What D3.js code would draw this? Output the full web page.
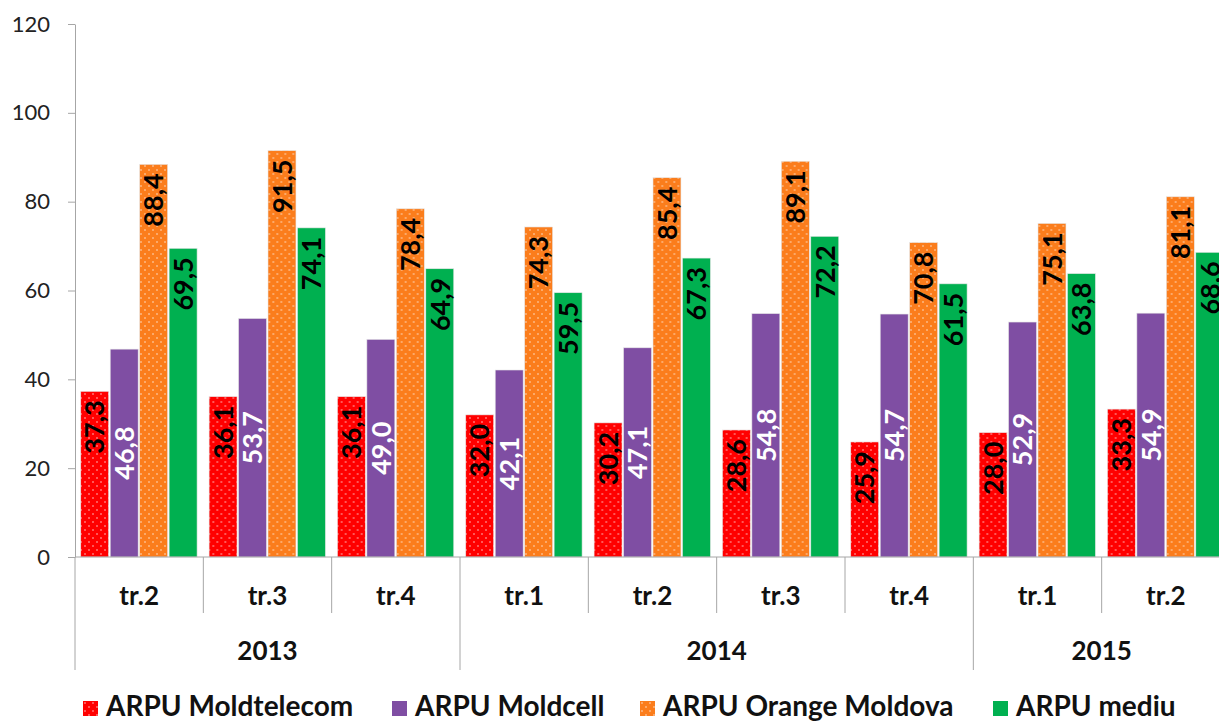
<!DOCTYPE html>
<html>
<head>
<meta charset="utf-8">
<script src="https://cdn.jsdelivr.net/npm/d3@7"></script>
<style>
  html, body { margin: 0; padding: 0; background: #fff; overflow: hidden; }
  svg { display: block; font-family: Lato, "Open Sans", sans-serif; }
</style>
</head>
<body>
<div id="chart"></div>
<script>
// ARPU chart

// data
var quarters = ["tr.2", "tr.3", "tr.4", "tr.1", "tr.2", "tr.3", "tr.4", "tr.1", "tr.2"];
var years = ["2013", "2013", "2013", "2014", "2014", "2014", "2014", "2015", "2015"];
var seriesNames = ["ARPU Moldtelecom", "ARPU Moldcell", "ARPU Orange Moldova", "ARPU mediu"];
var moldtelecom = [37.3, 36.1, 36.1, 32.0, 30.2, 28.6, 25.9, 28.0, 33.3];
var moldcell = [46.8, 53.7, 49.0, 42.1, 47.1, 54.8, 54.7, 52.9, 54.9];
var orange = [88.4, 91.5, 78.4, 74.3, 85.4, 89.1, 70.8, 75.1, 81.1];
var mediu = [69.5, 74.1, 64.9, 59.5, 67.3, 72.2, 61.5, 63.8, 68.6];
var yTicks = [0, 20, 40, 60, 80, 100, 120];

var seriesValues = [moldtelecom, moldcell, orange, mediu];
var colors = ["#ff0000", "#7f4ea3", "#fb7d1c", "#00b050"];
var fills = ["url(#dotsRed)", "#7f4ea3", "url(#dotsOrange)", "#00b050"];
var labelColors = ["#000", "#fff", "#000", "#000"];

var W = 1219, H = 722;
var m = [24, 0, 0, 75]; //top right bottom left
var plotBottom = 557;
var plotRight = 1230; // last category is cut by the picture edge

var svg = d3.select("#chart").append("svg")
    .attr("width", W)
    .attr("height", H);

// dotted fills
var defs = svg.append("defs");
function dots(id, base) {
  var p = defs.append("pattern")
      .attr("id", id)
      .attr("patternUnits", "userSpaceOnUse")
      .attr("width", 8)
      .attr("height", 8);
  p.append("rect").attr("width", 8).attr("height", 8).attr("fill", base);
  p.append("circle").attr("cx", 2).attr("cy", 2).attr("r", 0.75).attr("fill", "#fff").attr("opacity", 0.85);
  p.append("circle").attr("cx", 6).attr("cy", 6).attr("r", 0.75).attr("fill", "#fff").attr("opacity", 0.85);
}
dots("dotsRed", colors[0]);
dots("dotsOrange", colors[2]);

//scales
var x0 = d3.scaleBand()
    .domain(d3.range(quarters.length))
    .range([m[3], plotRight])
    .padding(0);

var x1 = d3.scaleBand()
    .domain(d3.range(seriesNames.length))
    .range([5, x0.bandwidth() - 5.5])
    .padding(0);

var y = d3.scaleLinear()
    .domain([0, 120])
    .range([plotBottom, m[0]]);

var axisColor = "#a6a6a6";

// bars
var groups = svg.append("g").selectAll("g")
    .data(quarters)
    .enter().append("g")
    .attr("transform", function(d, i) { return "translate(" + x0(i) + ",0)"; });

var bars = groups.selectAll("g.bar")
    .data(function(d, i) {
      return seriesValues.map(function(vals, s) { return {s: s, v: vals[i]}; });
    })
    .enter().append("g")
    .attr("class", "bar");

bars.append("rect")
    .attr("x", function(d) { return x1(d.s) + 0.75; })
    .attr("y", function(d) { return y(d.v); })
    .attr("width", x1.bandwidth() - 1.5)
    .attr("height", function(d) { return plotBottom - y(d.v); })
    .attr("fill", function(d) { return fills[d.s]; })
    .attr("stroke", "#e6e6e6")
    .attr("stroke-width", 0.6);

// value labels, rotated; Moldcell ones sit in the middle, others at the top
bars.append("text")
    .text(function(d) { return d.v.toFixed(1).replace(".", ","); })
    .attr("transform", function(d) {
      var cx = x1(d.s) + x1.bandwidth() / 2;
      var cy = d.s === 1 ? (y(d.v) + plotBottom) / 2 : y(d.v) + 9;
      return "translate(" + cx + "," + cy + ") rotate(-90)";
    })
    .attr("text-anchor", function(d) { return d.s === 1 ? "middle" : "end"; })
    .attr("dy", "0.36em")
    .attr("fill", function(d) { return labelColors[d.s]; })
    .style("font-size", "27px")
    .style("font-weight", "bold");

// y axis
var yAxis = svg.append("g")
    .attr("transform", "translate(" + m[3] + ",0)")
    .call(d3.axisLeft(y).tickValues(yTicks).tickSize(7).tickPadding(18).tickSizeOuter(0));
yAxis.select(".domain").attr("stroke", axisColor);
yAxis.selectAll(".tick line").attr("stroke", axisColor);
yAxis.selectAll(".tick text")
    .attr("fill", "#222")
    .style("font-size", "22px")
    .style("font-family", "Lato, sans-serif");

// x axis: baseline, quarter labels, year labels
var xg = svg.append("g");
xg.append("line")
    .attr("x1", m[3]).attr("x2", W)
    .attr("y1", plotBottom).attr("y2", plotBottom)
    .attr("stroke", axisColor);

var boundaries = d3.range(quarters.length + 1);
xg.selectAll(".sep")
    .data(boundaries)
    .enter().append("line")
    .attr("x1", function(i) { return i < quarters.length ? x0(i) : plotRight; })
    .attr("x2", function(i) { return i < quarters.length ? x0(i) : plotRight; })
    .attr("y1", plotBottom)
    .attr("y2", function(i) {
      var newYear = i === 0 || i === quarters.length || years[i] !== years[i - 1];
      return newYear ? 670 : 613;
    })
    .attr("stroke", axisColor);

xg.selectAll(".qlabel")
    .data(quarters)
    .enter().append("text")
    .text(function(d) { return d; })
    .attr("x", function(d, i) { return x0(i) + x0.bandwidth() / 2; })
    .attr("y", 605)
    .attr("text-anchor", "middle")
    .attr("fill", "#111")
    .style("font-size", "26px")
    .style("font-weight", "bold");

var yearGroups = d3.groups(d3.range(years.length), function(i) { return years[i]; });
xg.selectAll(".ylabel")
    .data(yearGroups)
    .enter().append("text")
    .text(function(d) { return d[0]; })
    .attr("x", function(d) {
      var first = d[1][0], last = d[1][d[1].length - 1];
      return (x0(first) + x0(last) + x0.bandwidth()) / 2;
    })
    .attr("y", 660)
    .attr("text-anchor", "middle")
    .attr("fill", "#111")
    .style("font-size", "26px")
    .style("font-weight", "bold");

// legend
var legendX = [83, 392, 640, 993];
var legend = svg.append("g").selectAll("g")
    .data(seriesNames)
    .enter().append("g")
    .attr("transform", function(d, i) { return "translate(" + legendX[i] + ",701)"; });

legend.append("rect")
    .attr("width", 15)
    .attr("height", 15)
    .attr("fill", function(d, i) { return fills[i]; });

legend.append("text")
    .text(function(d) { return d; })
    .attr("x", 23)
    .attr("y", 15)
    .attr("fill", "#111")
    .style("font-size", "28px")
    .style("font-weight", "bold");
</script>
</body>
</html>
